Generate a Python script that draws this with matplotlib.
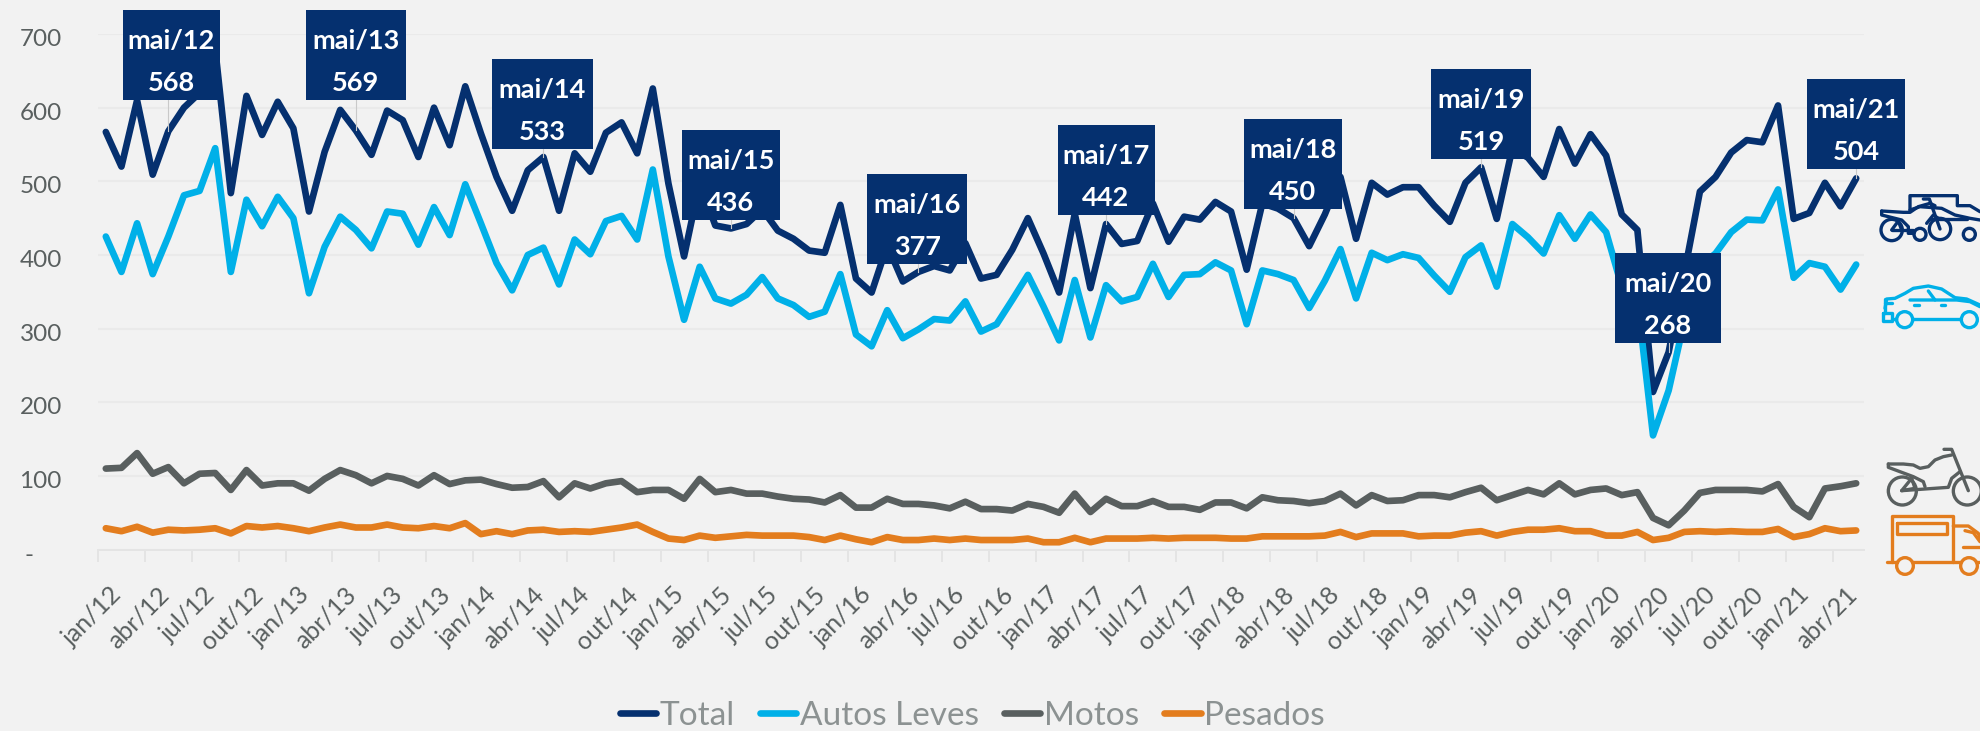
import matplotlib
matplotlib.use("Agg")
import matplotlib.pyplot as plt
from matplotlib.lines import Line2D
from matplotlib.patches import Circle, Rectangle
from matplotlib.transforms import ScaledTranslation

plt.rcParams['font.family'] = ['Lato', 'DejaVu Sans']

month_names = ["jan", "fev", "mar", "abr", "mai", "jun", "jul", "ago", "set", "out", "nov", "dez"]
years = [12, 13, 14, 15, 16, 17, 18, 19, 20, 21]

total = [567, 520, 610, 509, 568, 600, 620, 680, 484, 616, 563, 608,
         572, 459, 540, 597, 569, 536, 596, 583, 533, 600, 549, 629,
         565, 506, 460, 515, 533, 460, 538, 513, 566, 580, 538, 626,
         497, 398, 498, 440, 436, 442, 462, 433, 422, 406, 403, 468,
         368, 349, 413, 364, 377, 385, 379, 416, 368, 373, 407, 450,
         402, 349, 456, 355, 442, 415, 419, 470, 418, 452, 448, 472,
         459, 380, 470, 463, 450, 412, 455, 506, 422, 498, 482, 492,
         492, 467, 445, 498, 519, 449, 545, 532, 506, 571, 524, 564,
         535, 455, 434, 214, 268, 375, 486, 506, 539, 556, 553, 603,
         449, 457, 498, 466, 504]
autos = [425, 377, 443, 374, 425, 481, 487, 545, 377, 475, 439, 479,
         450, 348, 411, 452, 434, 409, 459, 456, 414, 465, 427, 496,
         443, 389, 352, 400, 410, 360, 421, 401, 446, 453, 421, 516,
         398, 312, 384, 341, 334, 346, 370, 341, 332, 316, 323, 374,
         292, 276, 325, 287, 299, 313, 311, 337, 296, 306, 339, 373,
         330, 284, 366, 288, 359, 337, 343, 388, 343, 373, 374, 390,
         379, 306, 379, 374, 366, 328, 365, 408, 341, 403, 393, 401,
         396, 372, 350, 397, 413, 357, 442, 424, 402, 454, 422, 455,
         431, 357, 340, 155, 216, 310, 385, 402, 431, 448, 447, 489,
         369, 389, 384, 353, 387]
motos = [110, 111, 131, 103, 112, 90, 103, 104, 81, 108, 87, 90,
         90, 80, 96, 108, 101, 90, 100, 96, 87, 101, 89, 94,
         95, 89, 84, 85, 93, 71, 90, 83, 90, 93, 78, 81,
         81, 69, 96, 78, 81, 76, 76, 72, 69, 68, 64, 74,
         57, 57, 69, 62, 62, 60, 56, 65, 55, 55, 53, 62,
         58, 50, 76, 51, 69, 59, 59, 66, 58, 58, 54, 64,
         64, 56, 71, 67, 66, 63, 66, 76, 60, 74, 66, 67,
         74, 74, 71, 78, 84, 67, 74, 81, 75, 90, 75, 81,
         83, 74, 78, 43, 33, 53, 77, 81, 81, 81, 79, 89,
         58, 44, 83, 86, 90]
pesados = [29, 25, 31, 23, 27, 26, 27, 29, 22, 32, 30, 32,
           29, 25, 30, 34, 30, 30, 34, 30, 29, 32, 29, 36,
           21, 25, 21, 26, 27, 24, 25, 24, 27, 30, 34, 24,
           15, 13, 19, 16, 18, 20, 19, 19, 19, 17, 13, 19,
           14, 10, 17, 13, 13, 15, 13, 15, 13, 13, 13, 15,
           10, 10, 16, 10, 15, 15, 15, 16, 15, 16, 16, 16,
           15, 15, 18, 18, 18, 18, 19, 24, 17, 22, 22, 22,
           18, 19, 19, 23, 25, 19, 24, 27, 27, 29, 25, 25,
           19, 19, 24, 13, 16, 24, 25, 24, 25, 24, 24, 28,
           17, 21, 29, 25, 26]

callout_index = [4, 16, 28, 40, 52, 64, 76, 88, 100, 112]
callout_names = ["mai/12", "mai/13", "mai/14", "mai/15", "mai/16",
                 "mai/17", "mai/18", "mai/19", "mai/20", "mai/21"]
callout_values = [568, 569, 533, 436, 377, 442, 450, 519, 268, 504]

# where the boxes sit: centre on the y scale, size and x shift in pixels
box_center = [672, 672, 605, 508, 449, 515, 523, 592, 341, 578]
box_width = [97, 100, 101, 98, 100, 97, 98, 100, 106, 98]
box_shift = [3, 0, -1, 0, -1, 0, -1, 0, -1, 0]

navy = "#05306F"
blue = "#00B0E8"
gray = "#595F5F"
orange = "#E37D1E"
bg = "#F2F2F2"
grid = "#EAEAEA"

W, H = 1980, 731
n = len(total)
categories = [f"{month_names[i % 12]}/{years[i // 12]}" for i in range(n)]

fig = plt.figure(figsize=(W / 100, H / 100), dpi=100, facecolor=bg)
ax = fig.add_axes([98 / W, 1 - 549.6 / H, 1766 / W, 515.6 / H], facecolor=bg)

px_x = 1766 / n
px_y = 515.6 / 700

for values, color, name in [(total, navy, "Total"), (autos, blue, "Autos Leves"),
                            (motos, gray, "Motos"), (pesados, orange, "Pesados")]:
    ax.plot(range(n), values, color=color, lw=4.8, label=name, zorder=3,
            solid_capstyle="round", solid_joinstyle="round")

ax.set_xlim(-0.5, n - 0.5)
ax.set_ylim(0, 700)

ax.set_yticks(range(0, 800, 100))
ax.set_yticklabels(["-\u2007\u2007"] + [str(v) for v in range(100, 800, 100)],
                   fontsize=17.5, color="#595F5F")
ax.tick_params(axis="y", length=0, pad=26)
ax.grid(axis="y", color=grid, lw=1.6, zorder=0)
# the value labels sit a little under their grid lines
down = ScaledTranslation(0, -3.5 / 100, fig.dpi_scale_trans)
for lab in ax.get_yticklabels():
    lab.set_transform(lab.get_transform() + down)

# ticks sit between the months, labels under every third month
ax.set_xticks([i - 0.5 for i in range(0, n, 3)])
ax.set_xticklabels([])
ax.tick_params(axis="x", which="major", length=8.6, width=1.4, color="#E4E4E4")
ax.set_xticks(list(range(0, n, 3)), minor=True)
ax.set_xticklabels(categories[::3], minor=True, rotation=45, ha="right",
                   rotation_mode="anchor", fontsize=18, color="#595F5F")
ax.tick_params(axis="x", which="minor", length=0, pad=24)
shift = ScaledTranslation(4 / 100, 0, fig.dpi_scale_trans)
for lab in ax.get_xticklabels(minor=True):
    lab.set_transform(lab.get_transform() + shift)

for s in ["top", "right", "left"]:
    ax.spines[s].set_visible(False)
ax.spines["bottom"].set_color("#E4E4E4")
ax.spines["bottom"].set_linewidth(1.4)

for i, name, val, yc, w, dx in zip(callout_index, callout_names, callout_values,
                                   box_center, box_width, box_shift):
    y_val = total[i]
    xc = i + dx / px_x
    ax.plot([i, i], [y_val, yc], color="#C9C9C9", lw=0.8, zorder=4, clip_on=False)
    ax.add_patch(Rectangle((xc - w / 2 / px_x, yc - 45 / px_y), w / px_x, 90 / px_y,
                           facecolor=navy, edgecolor="none", zorder=5, clip_on=False))
    ax.text(xc, yc + 6 / px_y, name, color="white", fontsize=19.5, fontweight="bold",
            ha="center", va="baseline", zorder=6)
    ax.text(xc, yc - 36 / px_y, str(val), color="white", fontsize=19.5, fontweight="bold",
            ha="center", va="baseline", zorder=6)

leg = fig.legend(*ax.get_legend_handles_labels(), loc="center", ncol=4,
                 bbox_to_anchor=(972 / W, 1 - 716 / H), frameon=False, fontsize=24,
                 handlelength=1.1, handletextpad=0.1, columnspacing=0.75,
                 labelcolor="#8C9292", borderpad=0)


# icons on the right, coordinates from the reference crops (3x, origin top left)
def icon_line(base_y, pts, color, lw=2.4):
    xs = [(1870 + p[0] / 3) / W for p in pts]
    ys = [1 - (base_y + p[1] / 3) / H for p in pts]
    fig.add_artist(Line2D(xs, ys, color=color, lw=lw, transform=fig.transFigure,
                          solid_capstyle="round", solid_joinstyle="round"))


def icon_wheel(base_y, cx, cy, r, color, lw=2.4):
    fig.add_artist(Circle((1870 + cx / 3, H - (base_y + cy / 3)), r / 3, fill=False,
                          edgecolor=color, lw=lw, transform=None))


# mixed group
y0 = 185
for pts in [[(120, 75), (120, 32), (262, 32), (262, 62), (300, 62), (330, 80)],
            [(120, 75), (150, 65), (215, 70), (255, 90), (300, 100), (330, 105)],
            [(35, 78), (100, 82), (120, 82), (145, 65), (180, 55), (195, 62)],
            [(35, 78), (35, 90), (95, 105), (115, 125), (115, 145), (132, 145)],
            [(65, 135), (85, 108), (95, 135)], [(65, 135), (130, 135)],
            [(160, 42), (178, 42), (210, 132)],
            [(170, 115), (190, 90), (205, 100)], [(180, 102), (290, 102)]]:
    icon_line(y0, pts, navy)
for c in [(65, 135, 32), (210, 132, 32), (150, 148, 18), (298, 148, 18)]:
    icon_wheel(y0, *c, navy)

# car
y0 = 275
for pts in [[(45, 100), (50, 72), (75, 70), (105, 55), (130, 40), (175, 33), (215, 42), (255, 68), (290, 72), (330, 90)],
            [(120, 75), (260, 75), (300, 80), (330, 95)], [(175, 48), (195, 75)],
            [(132, 89), (148, 89)], [(212, 89), (226, 89)], [(130, 132), (272, 132)],
            [(45, 72), (45, 115)], [(40, 115), (65, 115), (65, 137), (40, 137), (40, 115)],
            [(65, 132), (78, 132)], [(45, 85), (65, 85)]]:
    icon_line(y0, pts, blue)
for c in [(104, 134, 24), (298, 134, 24)]:
    icon_wheel(y0, *c, blue)

# moto
y0 = 440
for pts in [[(55, 72), (100, 72), (130, 75), (150, 85), (175, 80), (195, 60), (220, 50), (245, 45)],
            [(55, 72), (55, 82), (130, 110), (160, 125), (165, 140)],
            [(125, 115), (95, 152), (135, 145), (125, 115)], [(95, 152), (235, 142), (245, 115), (270, 95)],
            [(222, 28), (245, 28), (295, 152)]]:
    icon_line(y0, pts, gray)
for c in [(97, 153, 42), (292, 153, 42)]:
    icon_wheel(y0, *c, gray)

# truck
y0 = 510
for pts in [[(65, 155), (65, 18), (250, 18), (250, 155)],
            [(82, 40), (230, 40), (230, 72), (82, 72), (82, 40)],
            [(52, 157), (80, 157)], [(130, 157), (270, 157)], [(320, 157), (330, 157)],
            [(250, 48), (295, 48), (325, 70), (330, 85)],
            [(285, 62), (310, 68), (330, 95)], [(278, 110), (330, 110)]]:
    icon_line(y0, pts, orange)
for c in [(105, 168, 25), (297, 168, 25)]:
    icon_wheel(y0, *c, orange)

fig.savefig("out.png", dpi=100, facecolor=bg)
